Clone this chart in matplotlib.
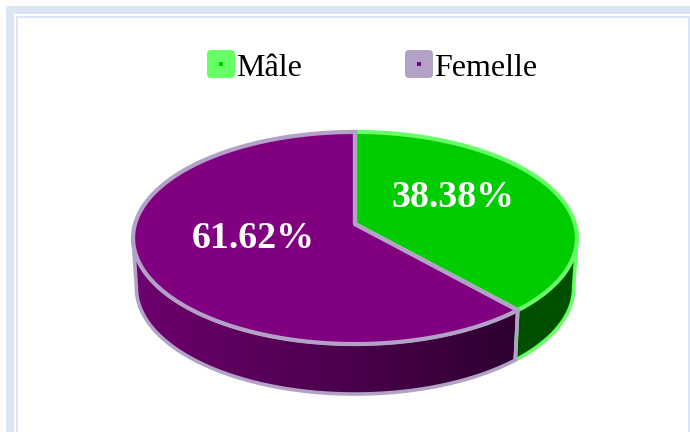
### Pie chart with fake 3D tilt: Male / Femelle shares

import numpy as np
from matplotlib import pyplot as plt
from matplotlib.colors import to_rgb
from matplotlib.patches import FancyBboxPatch, Polygon, Rectangle

# Data
labels = ['Mâle', 'Femelle']
shares = [38.38, 61.62]
share_text = ['38.38%', '61.62%']

# Colours
top_cols = ['#00cc00', '#800080']
rim_cols = ['#66ff66', '#b3a2c7']
frame_col = '#dce6f2'

plt.rcParams['font.family'] = ['Liberation Serif', 'DejaVu Serif']

fig = plt.figure(figsize=(6.9, 4.32), dpi=100)
ax = fig.add_axes([0, 0, 1, 1])
ax.set_xlim(0, 690)
ax.set_ylim(432, 0)
ax.axis('off')

# frame around the chart (runs off the bottom and right edge)
ax.add_patch(Rectangle((6, 6), 684, 8, color=frame_col, lw=0))
ax.add_patch(Rectangle((6, 6), 8, 426, color=frame_col, lw=0))
ax.add_patch(Rectangle((16, 16), 2, 416, color=frame_col, lw=0))
ax.add_patch(Rectangle((16, 16), 674, 2, color=frame_col, lw=0))
ax.add_patch(Rectangle((687.5, 16), 2.5, 416, color=frame_col, lw=0))

# pie geometry, tilted with a perspective so the centre sits above the ellipse centre
cx, cy = 355, 224
k = 0.132
a = 220
b = 104.2
depth = 50


def rim(theta, drop=0, shrink=1.0):
    # theta in radians, clockwise from the top of the pie
    u = np.sin(theta)
    v = -np.cos(theta)
    w = 1 - k * v
    return np.column_stack((cx + shrink * a * u / w, cy + b * v / w + drop))


def side(t0, t1, col0, col1, edge):
    # side wall between two rim angles, shaded left to right
    ts = np.linspace(t0, t1, 100)
    pts = np.vstack((rim(ts), rim(ts[::-1], depth, 0.985)))
    wall = Polygon(pts, closed=True, fc='none', ec='none')
    ax.add_patch(wall)
    x0, x1 = pts[:, 0].min(), pts[:, 0].max()
    c0 = np.array(to_rgb(col0))
    c1 = np.array(to_rgb(col1))
    ramp = np.linspace(0, 1, 256)[None, :, None]
    img = ax.imshow(c0 + (c1 - c0) * ramp, extent=(x0, x1, pts[:, 1].max(), pts[:, 1].min()),
                    aspect='auto', zorder=1)
    img.set_clip_path(wall)
    ax.add_patch(Polygon(pts, closed=True, fc='none', ec=edge, lw=2.6, joinstyle='round', zorder=2))


split = 2 * np.pi * shares[0] / sum(shares)
hidden = np.arcsin(k)

# sides: the visible part of the wall only
side(np.pi / 2 + hidden, split, '#005000', '#005000', rim_cols[0])
side(split, 3 * np.pi / 2 - hidden, '#6e006e', '#2e0030', rim_cols[1])

# top faces
spans = [(0, split), (split, 2 * np.pi)]
for (t0, t1), fc, ec in zip(spans, top_cols, rim_cols):
    ts = np.linspace(t0, t1, 200)
    pts = np.vstack(([cx, cy], rim(ts)))
    ax.add_patch(Polygon(pts, closed=True, fc=fc, ec=ec, lw=3.0, joinstyle='round', zorder=3))

# purple spokes go over the green rim
ts = np.array([split, 0.0])
spoke = np.vstack((rim(ts[:1]), [cx, cy], rim(ts[1:])))
ax.plot(spoke[:, 0], spoke[:, 1], color=rim_cols[1], lw=3.0, zorder=4, solid_joinstyle='round')

# percentages
ax.text(453, 207, share_text[0], color='white', fontsize=27.3, fontweight='bold',
        ha='center', va='baseline', zorder=5)
ax.text(253, 248, share_text[1], color='white', fontsize=27.3, fontweight='bold',
        ha='center', va='baseline', zorder=5)

# legend
for x, lab, ec, fc in zip([207, 405], labels, rim_cols, top_cols):
    ax.add_patch(FancyBboxPatch((x + 3, 53), 22, 22, boxstyle='round,pad=3,rounding_size=4',
                                fc=ec, ec='none', zorder=5))
    ax.add_patch(Rectangle((x + 12, 62), 4, 4, color=fc, lw=0, zorder=6))
    ax.text(x + 29.5, 76, lab, color='black', fontsize=23, ha='left', va='baseline', zorder=5)

ax.set_xlim(0, 690)
ax.set_ylim(432, 0)

fig.savefig('out.png', dpi=100)
